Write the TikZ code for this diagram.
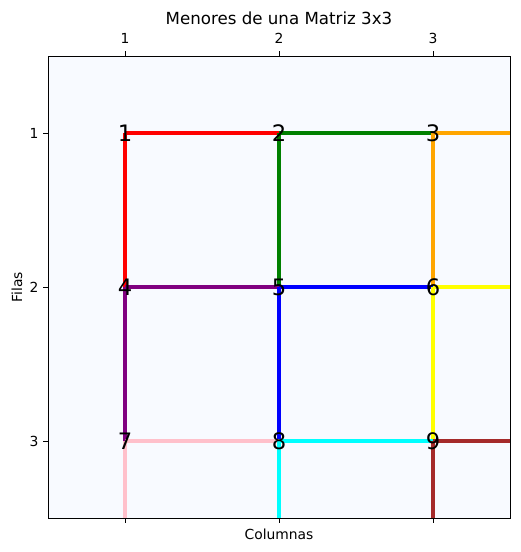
\documentclass[tikz,border=0pt]{standalone}
\usepackage{fontspec}
\setmainfont{DejaVu Sans}
\usetikzlibrary{arrows.meta}
\definecolor{axbg}{RGB}{248,250,255}
\definecolor{mplred}{RGB}{255,0,0}
\definecolor{mplgreen}{RGB}{0,128,0}
\definecolor{mplorange}{RGB}{255,165,0}
\definecolor{mplpurple}{RGB}{128,0,128}
\definecolor{mplblue}{RGB}{0,0,255}
\definecolor{mplyellow}{RGB}{255,255,0}
\definecolor{mplpink}{RGB}{255,192,203}
\definecolor{mplcyan}{RGB}{0,255,255}
\definecolor{mplbrown}{RGB}{165,42,42}
\tikzset{
  elem/.style={inner sep=0pt,font=\fontsize{17}{17}\selectfont},
  ticklab/.style={inner sep=0pt,font=\fontsize{10.4}{10.4}\selectfont},
  segm/.style={line width=2.4pt}
}
\begin{document}
\begin{tikzpicture}[x=0.75pt,y=-0.75pt,line width=0.3pt]
\useasboundingbox (0,0) rectangle (520,552);
\fill[axbg] (48,56) rectangle (510,518);
% elementos de la matriz
\node[elem] (e1) at (125,133) {};
\node[elem] (e2) at (279,133) {};
\node[elem] (e3) at (433,133) {};
\node[elem] (e4) at (125,287) {};
\node[elem] (e5) at (279,287) {};
\node[elem] (e6) at (433,287) {};
\node[elem] (e7) at (125,441) {};
\node[elem] (e8) at (279,441) {};
\node[elem] (e9) at (433,441) {};
\coordinate (r1) at (587,133);
\coordinate (r2) at (587,287);
\coordinate (r3) at (587,441);
\coordinate (b1) at (125,595);
\coordinate (b2) at (279,595);
\coordinate (b3) at (433,595);
\begin{scope}
\clip (48,56) rectangle (510,518);
\draw[segm,mplred] (e1.center) -- (e2.center);
\draw[segm,mplred] (e1.center) -- (e4.center);
\draw[segm,mplgreen] (e2.center) -- (e3.center);
\draw[segm,mplgreen] (e2.center) -- (e5.center);
\draw[segm,mplorange] (e3.center) -- (r1);
\draw[segm,mplorange] (e3.center) -- (e6.center);
\draw[segm,mplpurple] (e4.center) -- (e5.center);
\draw[segm,mplpurple] (e4.center) -- (e7.center);
\draw[segm,mplblue] (e5.center) -- (e6.center);
\draw[segm,mplblue] (e5.center) -- (e8.center);
\draw[segm,mplyellow] (e6.center) -- (r2);
\draw[segm,mplyellow] (e6.center) -- (e9.center);
\draw[segm,mplpink] (e7.center) -- (e8.center);
\draw[segm,mplpink] (e7.center) -- (b1);
\draw[segm,mplcyan] (e8.center) -- (e9.center);
\draw[segm,mplcyan] (e8.center) -- (b2);
\draw[segm,mplbrown] (e9.center) -- (r3);
\draw[segm,mplbrown] (e9.center) -- (b3);
\end{scope}
\node[elem] at (e1) {1};
\node[elem] at (e2) {2};
\node[elem] at (e3) {3};
\node[elem] at (e4) {4};
\node[elem] at (e5) {5};
\node[elem] at (e6) {6};
\node[elem] at (e7) {7};
\node[elem] at (e8) {8};
\node[elem] at (e9) {9};
% ejes
\draw[line width=0.6pt] (48,56) rectangle (510,518);
\draw[line width=0.6pt] (125,56) -- (125,51) (279,56) -- (279,51) (433,56) -- (433,51);
\draw[line width=0.6pt] (125,518) -- (125,523) (279,518) -- (279,523) (433,518) -- (433,523);
\draw[line width=0.6pt] (48,133) -- (43,133) (48,287) -- (43,287) (48,441) -- (43,441);
\node[ticklab] (tx1) at (125,38) {1};
\node[ticklab] (tx2) at (279,38) {2};
\node[ticklab] (tx3) at (433,38) {3};
\node[ticklab] (ty1) at (34,133) {1};
\node[ticklab] (ty2) at (34,287) {2};
\node[ticklab] (ty3) at (34,441) {3};
\node[ticklab] (xlab) at (279,534) {Columnas};
\node[ticklab,rotate=90] (ylab) at (17,287) {Filas};
\node[inner sep=0pt,font=\fontsize{12.5}{12.5}\selectfont] (titulo) at (279,18) {Menores de una Matriz 3x3};
\end{tikzpicture}
\end{document}
